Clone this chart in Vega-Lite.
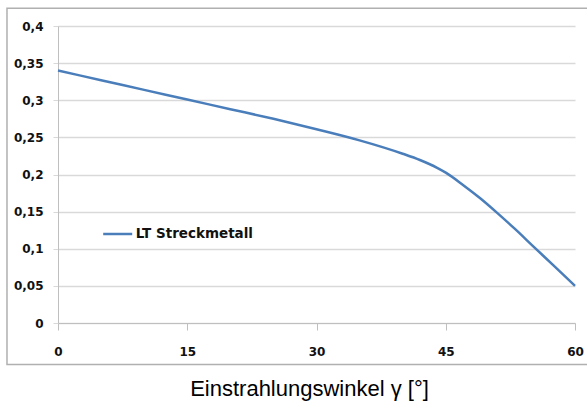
{
  "$schema": "https://vega.github.io/schema/vega-lite/v6.json",
  "width": 517,
  "height": 297,
  "autosize": {"type": "none"},
  "padding": {"left": 58, "top": 26, "right": 12, "bottom": 80},
  "background": "white",
  "config": {"view": {"stroke": null}},
  "layer": [
    {
      "data": {
        "values": [
          {"angle": 0, "value": 0.340, "series": "LT Streckmetall"},
          {"angle": 5, "value": 0.327, "series": "LT Streckmetall"},
          {"angle": 10, "value": 0.314, "series": "LT Streckmetall"},
          {"angle": 15, "value": 0.301, "series": "LT Streckmetall"},
          {"angle": 20, "value": 0.288, "series": "LT Streckmetall"},
          {"angle": 25, "value": 0.275, "series": "LT Streckmetall"},
          {"angle": 30, "value": 0.261, "series": "LT Streckmetall"},
          {"angle": 35, "value": 0.246, "series": "LT Streckmetall"},
          {"angle": 40, "value": 0.228, "series": "LT Streckmetall"},
          {"angle": 42, "value": 0.2195, "series": "LT Streckmetall"},
          {"angle": 44, "value": 0.209, "series": "LT Streckmetall"},
          {"angle": 45, "value": 0.2025, "series": "LT Streckmetall"},
          {"angle": 47, "value": 0.186, "series": "LT Streckmetall"},
          {"angle": 49, "value": 0.168, "series": "LT Streckmetall"},
          {"angle": 51, "value": 0.148, "series": "LT Streckmetall"},
          {"angle": 53, "value": 0.127, "series": "LT Streckmetall"},
          {"angle": 55, "value": 0.105, "series": "LT Streckmetall"},
          {"angle": 57.5, "value": 0.0775, "series": "LT Streckmetall"},
          {"angle": 60, "value": 0.050, "series": "LT Streckmetall"}
        ]
      },
      "mark": {"type": "line", "interpolate": "monotone", "strokeWidth": 2.5},
      "encoding": {
        "x": {
          "field": "angle",
          "type": "quantitative",
          "scale": {"domain": [0, 60], "nice": false},
          "axis": {
            "values": [0, 15, 30, 45, 60],
            "tickCount": 20,
            "labelFlush": false,
            "labelBound": false,
            "grid": false,
            "tickSize": 7,
            "tickColor": "#bfbfbf",
            "domainColor": "#bfbfbf",
            "labelFont": "DejaVu Sans",
            "labelFontWeight": "bold",
            "labelFontSize": 12,
            "labelColor": "#111111",
            "labelPadding": 16,
            "title": "Einstrahlungswinkel γ [°]",
            "titleFont": "Liberation Sans",
            "titleFontSize": 22,
            "titleFontWeight": "normal",
            "titleColor": "#000000",
            "titleX": 251,
            "titleY": 72.6,
            "titleAlign": "center",
            "titleBaseline": "alphabetic"
          }
        },
        "y": {
          "field": "value",
          "type": "quantitative",
          "scale": {"domain": [0, 0.4], "nice": false},
          "axis": {
            "values": [0, 0.05, 0.1, 0.15, 0.2, 0.25, 0.3, 0.35, 0.4],
            "tickCount": 20,
            "labelExpr": "replace(format(datum.value, '.2~f'), '.', ',')",
            "labelOverlap": false,
            "labelBound": false,
            "labelFlush": false,
            "grid": true,
            "gridColor": "#d9d9d9",
            "gridWidth": 1.5,
            "tickSize": 5,
            "tickColor": "#d9d9d9",
            "domainColor": "#bfbfbf",
            "labelFont": "DejaVu Sans",
            "labelFontWeight": "bold",
            "labelFontSize": 12,
            "labelColor": "#111111",
            "labelPadding": 10,
            "title": null
          }
        },
        "color": {
          "field": "series",
          "type": "nominal",
          "scale": {"range": ["#4a7ebb"]},
          "legend": {
            "title": null,
            "orient": "none",
            "legendX": 43.7,
            "legendY": 192,
            "padding": 0,
            "symbolType": "stroke",
            "symbolSize": 841,
            "symbolStrokeWidth": 2.5,
            "labelFont": "DejaVu Sans",
            "labelFontWeight": "bold",
            "labelFontSize": 13.5,
            "labelColor": "#111111",
            "labelOffset": 2
          }
        }
      }
    },
    {
      "data": {"values": [{}]},
      "mark": {"type": "rect", "fillOpacity": 0, "stroke": "#b0b0b0", "strokeWidth": 1.5},
      "encoding": {
        "x": {"datum": -5.92, "type": "quantitative"},
        "x2": {"datum": 62.5},
        "y": {"datum": 0.4239, "type": "quantitative"},
        "y2": {"datum": -0.0559}
      }
    }
  ]
}
